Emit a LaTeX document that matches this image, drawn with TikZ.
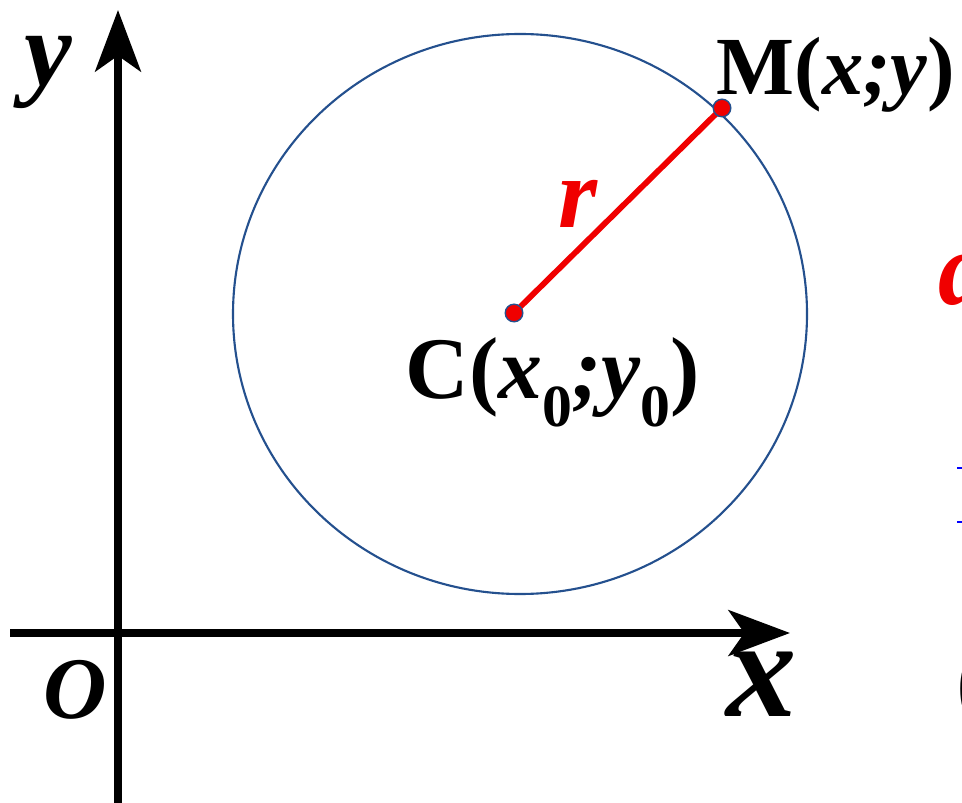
\documentclass[tikz,border=0pt]{standalone}
\usepackage{fontspec}
\setmainfont{Liberation Serif}
\usetikzlibrary{arrows.meta}

\definecolor{ringblue}{HTML}{24508E}
\definecolor{radred}{HTML}{F00000}
\newcommand\bxi[1]{\textbf{\textit{#1}}}
\newcommand\fsz[1]{\fontsize{#1}{#1}\selectfont}

\tikzset{
    axis/.style={line width=4.5pt, -{Stealth[length=35pt, width=26pt, inset=9pt]}},
    lbl/.style={anchor=base, inner sep=0pt, font=\bfseries},
    dot/.style={fill=radred, draw=ringblue, line width=0.8pt}
}

\begin{document}
\begin{tikzpicture}[x=0.02cm, y=-0.02cm]
    \clip (0, 0) rectangle (962, 803);
    \fill[white] (0, 0) rectangle (962, 803);

    % axes
    \coordinate (O) at (118, 633);
    \coordinate (xs) at (10, 633);
    \coordinate (xe) at (790, 633);
    \coordinate (ys) at (118, 810);
    \coordinate (ye) at (118, 10);
    \draw[axis] (xs) -- (xe);
    \draw[axis] (ys) -- (ye);

    % circle, centre and point on it
    \coordinate (ctr) at (520, 314);
    \coordinate (C) at (514, 313);
    \coordinate (M) at (722, 108);
    \draw[ringblue, line width=1.2pt] (ctr) ellipse[x radius=287, y radius=280];
    \draw[radred, line width=3.3pt] (C) -- (M);
    \fill[dot, radius=5pt]
        (C) circle[]
        (M) circle[];

    % labels
    \node[lbl, font=\bfseries\fsz{61}] (ylab) at (48, 86) {\bxi{y}};
    \node[lbl, font=\bfseries\fsz{80}] (xlab) at (762, 716) {\bxi{x}};
    \node[lbl, font=\bfseries\fsz{50}] (olab) at (75, 718) {\bxi{O}};
    \node[lbl, font=\bfseries\fsz{57}, text=radred] (rlab) at (578, 228) {\bxi{r}};
    \node[lbl, font=\bfseries\fsz{47}] (mlab) at (836, 95)
        {M(\bxi{x;y})};
    \node[lbl, font=\bfseries\fsz{50}] (clab) at (553, 398)
        {C(\bxi{x}\raisebox{-16pt}{\fsz{34}0}\bxi{;y}\raisebox{-16pt}{\fsz{34}0})};

    % cut-off text at the right edge
    \node[lbl, anchor=base west, font=\bfseries\fsz{60}, text=radred] (dcut) at (938, 305) {\bxi{d}};
    \node[lbl, anchor=base west, font=\bfseries\fsz{55}] (pcut) at (956, 712) {(};
    \coordinate (b1) at (957, 468);
    \coordinate (b2) at (957, 522);
    \draw[blue, line width=1.2pt]
        (b1) -- ++(10, 0)
        (b2) -- ++(10, 0);
\end{tikzpicture}
\end{document}
